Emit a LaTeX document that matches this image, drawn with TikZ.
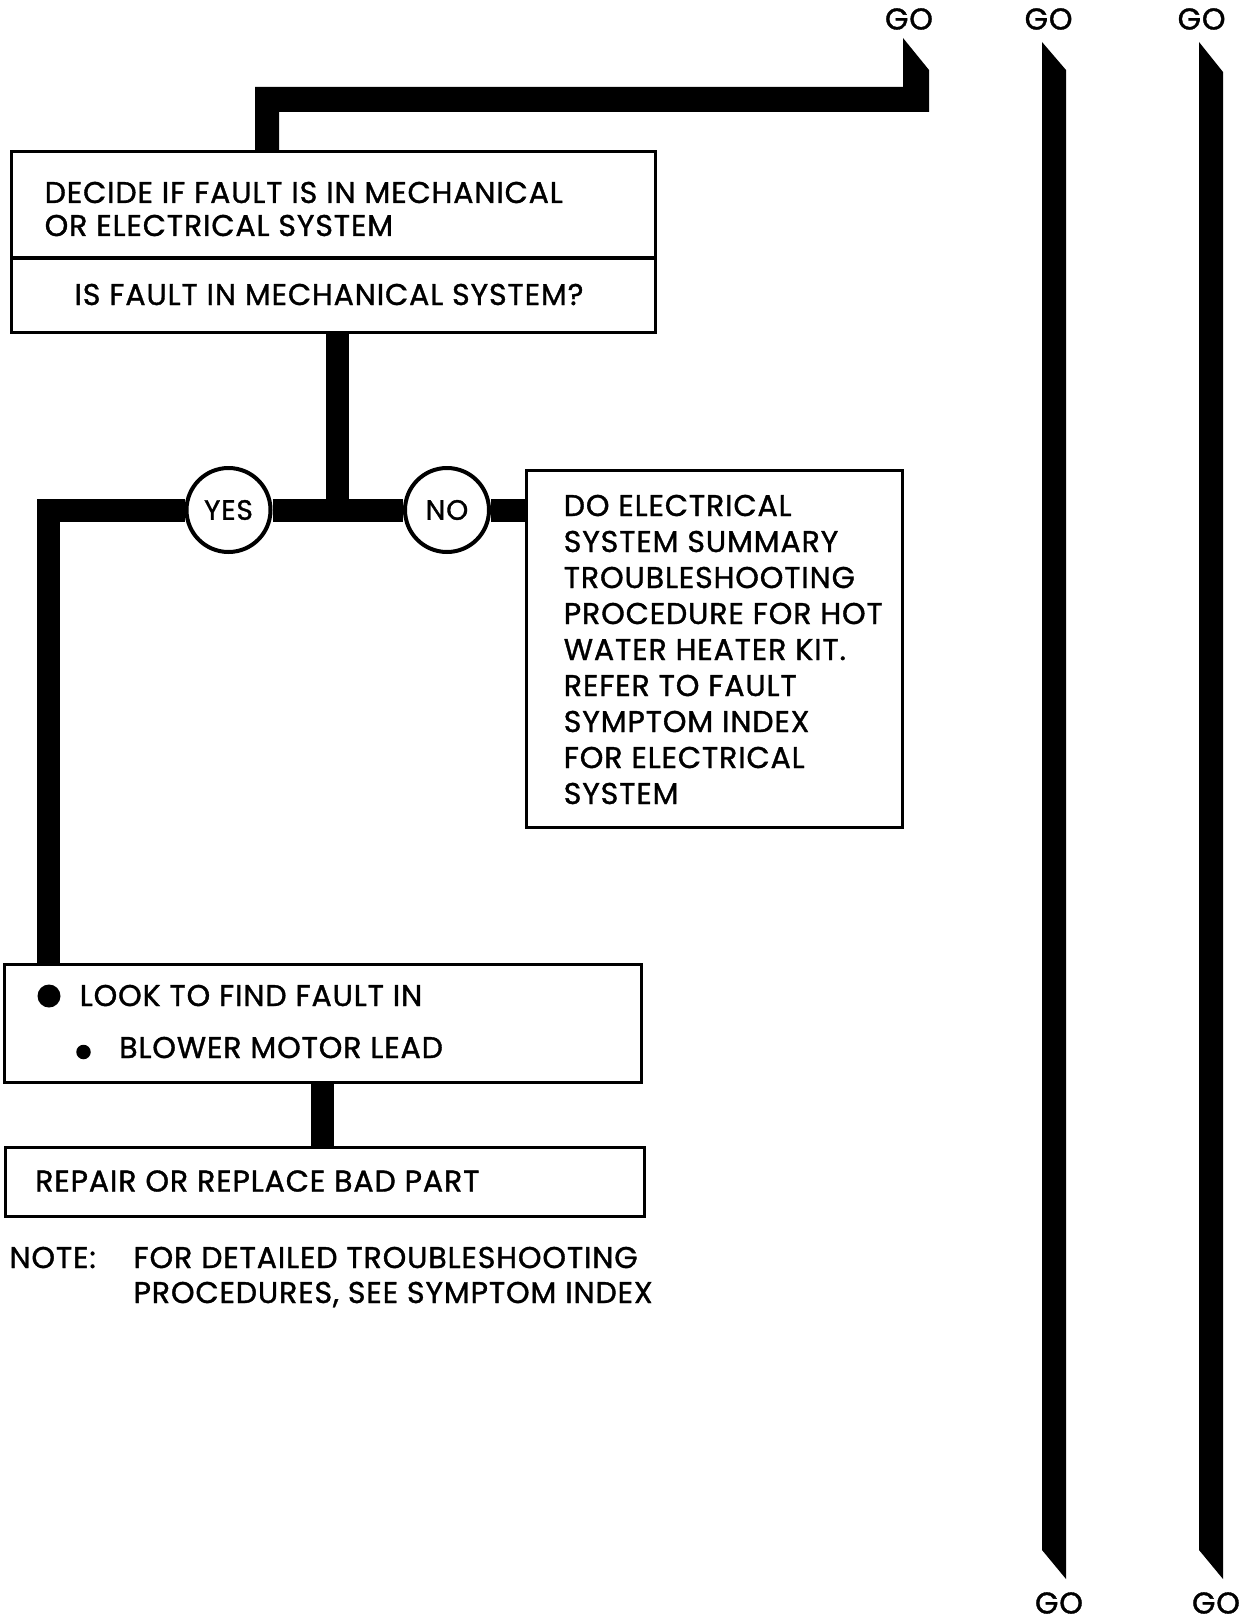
\documentclass[tikz,border=0pt]{standalone}
\usepackage{fontspec}
\setmainfont{Poppins}[LetterSpace=3, FakeBold=1.2]
\begin{document}
\begin{tikzpicture}[x=1pt,y=-1pt,
  box/.style={draw, line width=3pt, rectangle, inner sep=0pt, outer sep=0pt},
  conn/.style={line width=23pt},
  txt/.style={anchor=base west, inner sep=0pt, font=\fontsize{30}{36}\selectfont},
  gotxt/.style={inner sep=0pt, font=\fontsize{30}{34}\selectfont},
  circ/.style={circle, draw, line width=4pt, fill=white, minimum size=84pt, inner sep=0pt, font=\fontsize{28}{32}\selectfont},
  dot/.style={circle, fill=black, inner sep=0pt}]

\useasboundingbox[fill=white] (0,0) rectangle (1243,1621);

% boxes
\node[box, minimum width=644pt, minimum height=106pt] (decide) at (333,205) {};
\node[box, minimum width=644pt, minimum height=73.5pt] (q) at (333,295.25) {};
\node[box, minimum width=376pt, minimum height=356.5pt] (nobox) at (714,648.75) {};
\node[box, minimum width=637pt, minimum height=118pt] (look) at (322.5,1023) {};
\node[box, minimum width=639pt, minimum height=69pt] (repair) at (324.5,1181.5) {};

% circles
\node[circ] (yes) at (228.5,510) {YES};
\node[circ] (no) at (447,510) {NO};

% texts
\node[txt] (t1) at (44.5,203) {DECIDE IF FAULT IS IN MECHANICAL};
\node[txt] (t2) at (44.5,236) {OR ELECTRICAL SYSTEM};
\node[txt, anchor=base] (t3) at (329,305) {IS FAULT IN MECHANICAL SYSTEM?};
\foreach \i/\s in {0/DO ELECTRICAL, 1/SYSTEM SUMMARY, 2/TROUBLESHOOTING, 3/PROCEDURE FOR HOT, 4/WATER HEATER KIT., 5/REFER TO FAULT, 6/SYMPTOM INDEX, 7/FOR ELECTRICAL, 8/SYSTEM}
  \node[txt] (n\i) at (563.6,{516+36*\i}) {\s};
\node[dot, minimum size=23pt] (b1) at (49,996) {};
\node[txt] (t4) at (79.6,1006) {LOOK TO FIND FAULT IN};
\node[dot, minimum size=14.5pt] (b2) at (83.5,1052) {};
\node[txt] (t5) at (119,1058) {BLOWER MOTOR LEAD};
\node[txt] (t6) at (35,1191.5) {REPAIR OR REPLACE BAD PART};
\node[txt] (note) at (9.3,1268) {NOTE:};
\node[txt] (t7) at (133.4,1268) {FOR DETAILED TROUBLESHOOTING};
\node[txt] (t8) at (133.4,1303) {PROCEDURES, SEE SYMPTOM INDEX};

% GO labels
\node[gotxt] (go1) at (909,19) {GO};
\node[gotxt] (go2) at (1048.6,19) {GO};
\node[gotxt] (go3) at (1201.6,19) {GO};
\node[gotxt] (go4) at (1059,1603) {GO};
\node[gotxt] (go5) at (1216,1603) {GO};

% connectors
\fill (255,152) -- (255,87) -- (903,87) -- (903,38) -- (929,70) -- (929,112) -- (279,112) -- (279,152) -- cycle;
\coordinate (j) at (337,510);
\draw[conn] (q.south -| j) -- (j);
\draw[conn] (yes.east) -- (no.west);
\draw[conn] (no.east) -- (no.east -| nobox.west);
\coordinate (lc) at (48.5,510);
\draw[conn] (yes.west) -- (lc) -- (lc |- look.north);
\coordinate (m) at (322.5,0);
\draw[conn] (look.south -| m) -- (repair.north -| m);
\fill (1042,42) -- (1066,70) -- (1066,1579) -- (1042,1550) -- cycle;
\fill (1199,42) -- (1223,72) -- (1223,1579) -- (1199,1550) -- cycle;
\end{tikzpicture}
\end{document}
